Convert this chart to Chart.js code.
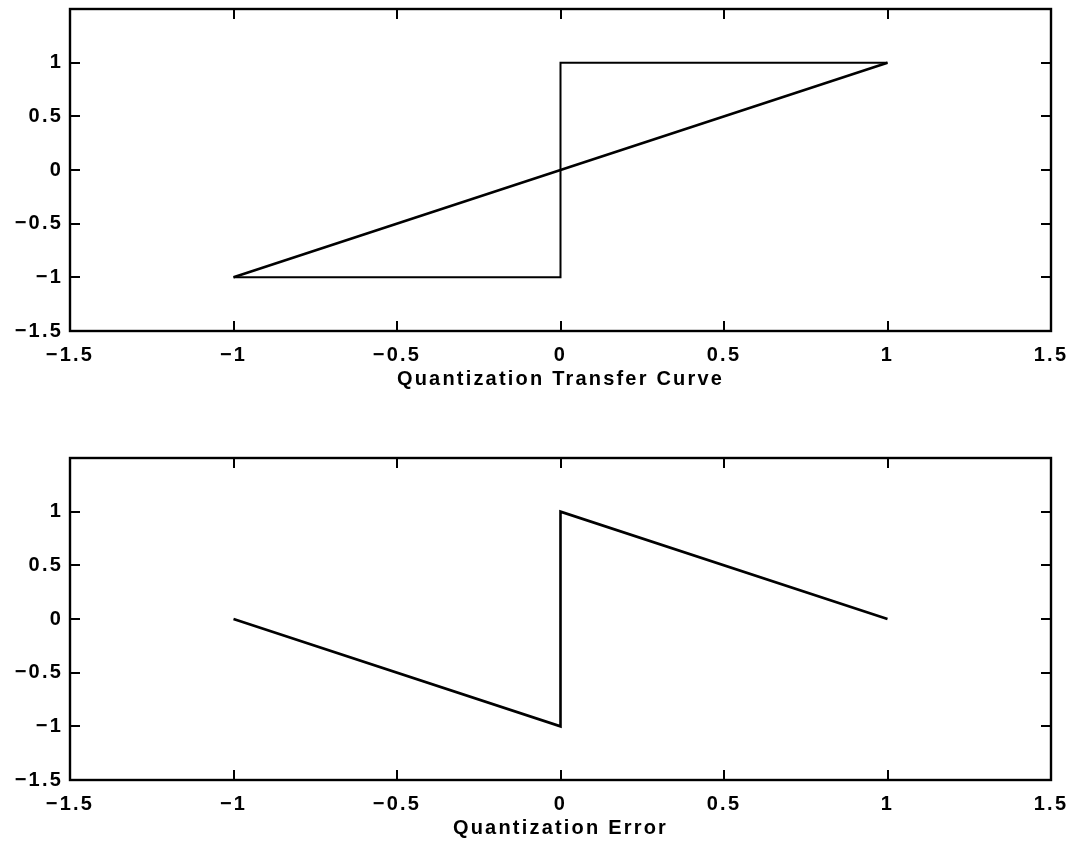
<!DOCTYPE html>
<html>
<head>
<meta charset="utf-8">
<script src="https://cdn.jsdelivr.net/npm/chart.js@4.4.0/dist/chart.umd.min.js"></script>
<style>
  html, body { margin: 0; padding: 0; background: #fff; overflow: hidden; width: 1074px; height: 851px; }
  .wrap { position: absolute; left: 0; width: 1074px; height: 425px; }
  canvas { display: block; }
</style>
</head>
<body>
<div class="wrap" style="top:0px"><canvas id="c1" width="1074" height="425"></canvas></div>
<div class="wrap" style="top:449px"><canvas id="c2" width="1074" height="425"></canvas></div>
<script>
// ---- data ----
const xTicks = [-1.5, -1, -0.5, 0, 0.5, 1, 1.5];
const yTicks = [-1.5, -1, -0.5, 0, 0.5, 1];

const rampX = [-1, 1];
const rampY = [-1, 1];

const stepX = [-1, 0, 0, 1];
const stepY = [-1, -1, 1, 1];

const errX = [-1, 0, 0, 1];
const errY = [0, -1, 1, 0];

const title1 = 'Quantization Transfer Curve';
const title2 = 'Quantization Error';

// ---- helpers ----
function pts(xs, ys) { return xs.map((x, i) => ({ x: x, y: ys[i] })); }
function fmt(v) { return (v < 0 ? '\u2212' : '') + String(Math.abs(v)); }

const FONT = { family: 'Liberation Sans, Arial, sans-serif', size: 20, weight: 'bold' };
const LS = '2.2px';

const spacingPlugin = {
  id: 'spacing',
  beforeInit(chart) { chart.ctx.letterSpacing = LS; },
  beforeLayout(chart) { chart.ctx.letterSpacing = LS; },
  beforeDraw(chart) { chart.ctx.letterSpacing = LS; }
};

const boxPlugin = {
  id: 'box',
  afterDraw(chart) {
    const ctx = chart.ctx;
    const a = chart.chartArea;
    const xs = chart.scales.x, ys = chart.scales.y;
    ctx.save();
    ctx.strokeStyle = '#000';
    ctx.lineWidth = 2.4;
    ctx.strokeRect(a.left, a.top, a.right - a.left, a.bottom - a.top);
    ctx.lineWidth = 2;
    const L = 10;
    ctx.beginPath();
    xTicks.forEach(v => {
      const px = Math.round(xs.getPixelForValue(v));
      ctx.moveTo(px, a.bottom); ctx.lineTo(px, a.bottom - L);
      ctx.moveTo(px, a.top); ctx.lineTo(px, a.top + L);
    });
    yTicks.forEach(v => {
      const py = Math.round(ys.getPixelForValue(v));
      ctx.moveTo(a.left, py); ctx.lineTo(a.left + L, py);
      ctx.moveTo(a.right, py); ctx.lineTo(a.right - L, py);
    });
    ctx.stroke();
    ctx.restore();
  }
};

function makeChart(id, datasets, title) {
  return new Chart(document.getElementById(id), {
    type: 'scatter',
    data: { datasets: datasets },
    plugins: [spacingPlugin, boxPlugin],
    options: {
      responsive: false,
      animation: false,
      events: [],
      layout: { padding: { left: 0, right: 23, top: 9, bottom: 34 } },
      plugins: { legend: { display: false }, tooltip: { enabled: false } },
      elements: { point: { radius: 0 } },
      scales: {
        x: {
          type: 'linear',
          min: -1.5, max: 1.5,
          afterBuildTicks: s => { s.ticks = xTicks.map(v => ({ value: v })); },
          afterFit: s => { s.height = 60; s.paddingLeft = 0; s.paddingRight = 0; },
          grid: { display: false, drawTicks: false },
          border: { display: false },
          ticks: { color: '#000', font: FONT, padding: 12, maxRotation: 0, autoSkip: false, callback: v => fmt(v) },
          title: { display: true, text: title, color: '#000', font: FONT, padding: { top: 0, bottom: 0 } }
        },
        y: {
          type: 'linear',
          min: -1.5, max: 1.5,
          afterBuildTicks: s => { s.ticks = yTicks.map(v => ({ value: v })); },
          afterFit: s => { s.width = 70; s.paddingTop = 0; s.paddingBottom = 0; },
          grid: { display: false, drawTicks: false },
          border: { display: false },
          ticks: { color: '#000', font: FONT, padding: 7, autoSkip: false, callback: v => fmt(v) }
        }
      }
    }
  });
}

const rampStyle = { showLine: true, borderColor: '#000', backgroundColor: '#000', borderWidth: 2.6, pointRadius: 0, fill: false, tension: 0 };
const stepStyle = { showLine: true, borderColor: '#000', backgroundColor: '#000', borderWidth: 2, pointRadius: 0, fill: false, tension: 0 };

makeChart('c1', [
  Object.assign({ data: pts(rampX, rampY) }, rampStyle),
  Object.assign({ data: pts(stepX, stepY) }, stepStyle)
], title1);

makeChart('c2', [
  Object.assign({ data: pts(errX, errY) }, rampStyle)
], title2);
</script>
</body>
</html>
